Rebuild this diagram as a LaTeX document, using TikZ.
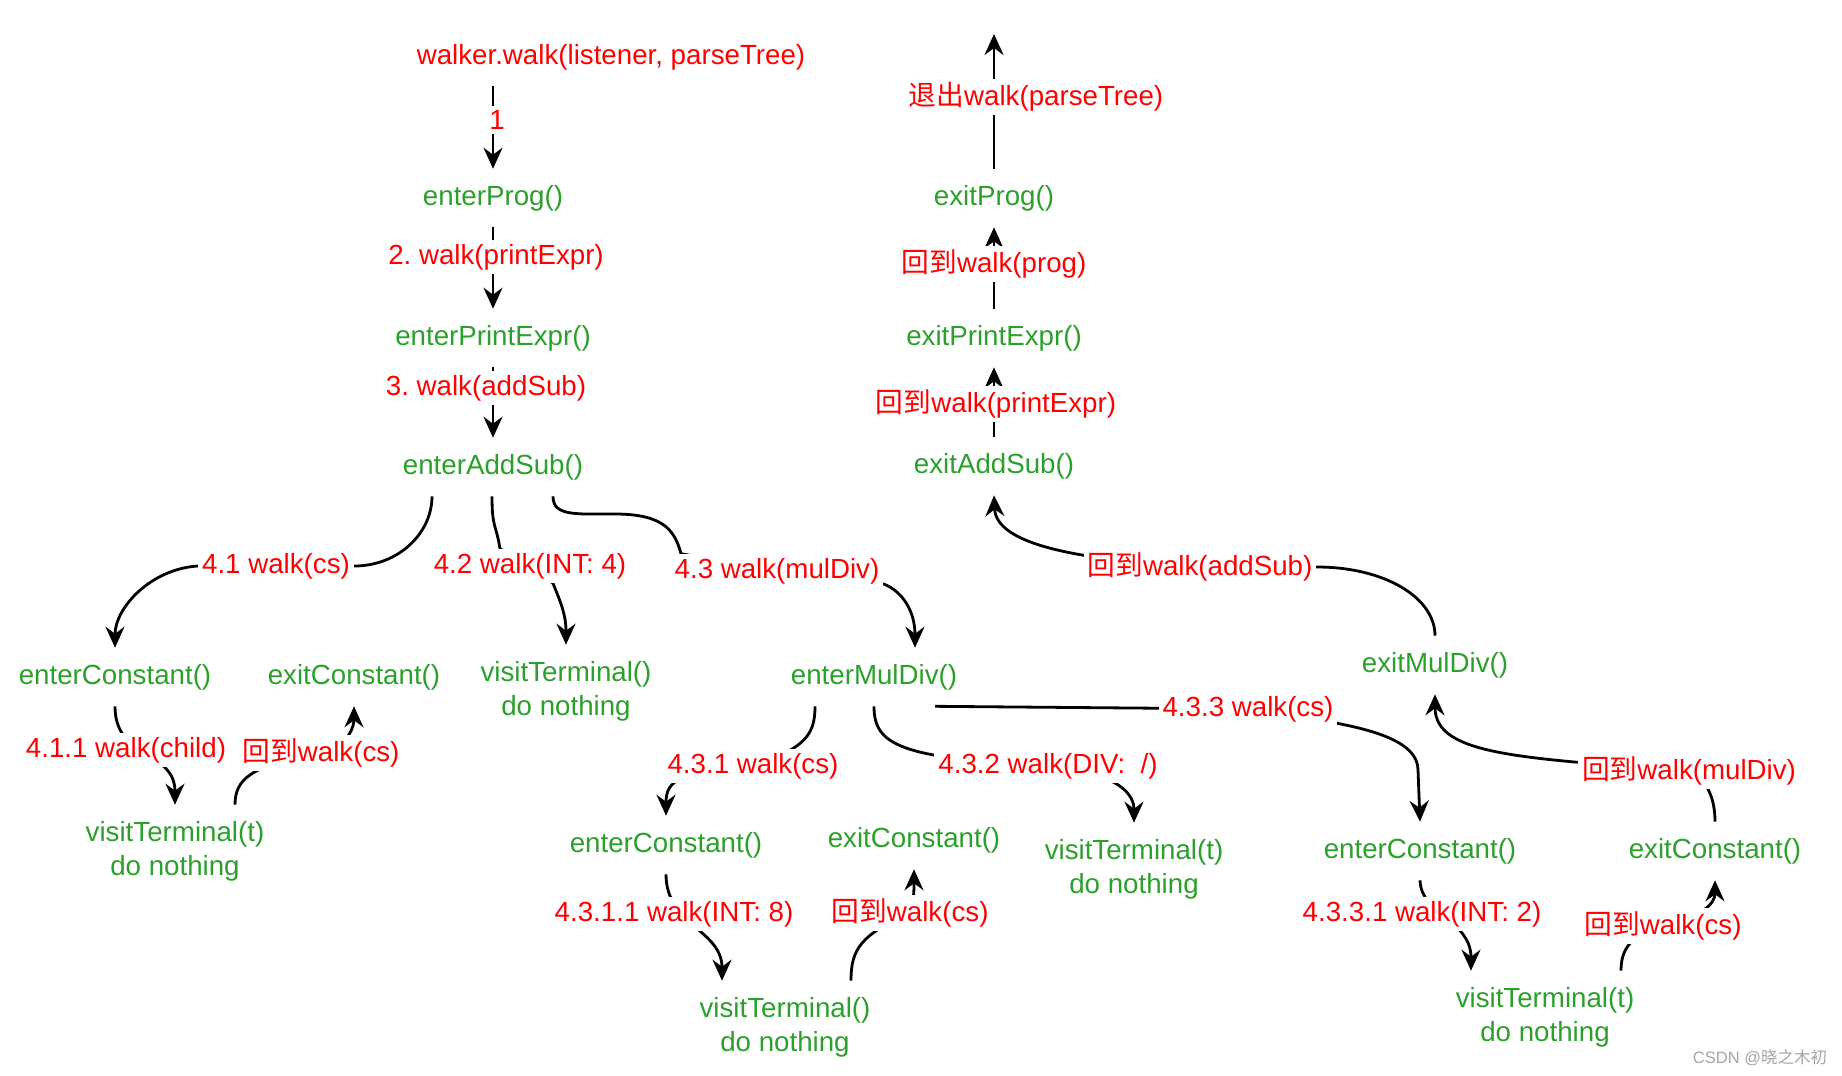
\documentclass[tikz,border=0pt]{standalone}
\usepackage{fontspec}
\setmainfont{Liberation Sans}
\newfontfamily\cjk{Noto Sans CJK SC}
\usetikzlibrary{arrows.meta,calc,backgrounds}
\definecolor{fred}{RGB}{255,0,0}
\definecolor{fgreen}{RGB}{43,160,43}
\definecolor{wmark}{RGB}{165,165,165}
\begin{document}
\frenchspacing
\begin{tikzpicture}[x=0.5pt,y=-0.5pt,
  every node/.style={font=\fontsize{13.85pt}{17pt}\selectfont},
  fn/.style={text=fgreen, inner xsep=2pt, inner ysep=8pt, align=center},
  rtext/.style={text=fred, inner xsep=2pt, inner ysep=8pt},
  lbl/.style={text=fred, fill=white, inner sep=2pt},
  conn/.style={line width=1.4pt, -{Stealth[length=10.5pt,width=9.5pt,inset=3.5pt]}}]
\useasboundingbox (0,0) rectangle (1842,1076);

% functions (green)
\node[fn] (ePg) at (493,198) {enterProg()};
\node[fn] (ePE) at (493,338) {enterPrintExpr()};
\node[fn] (eAS) at (493,467) {enterAddSub()};
\node[fn] (xPg) at (994,198) {exitProg()};
\node[fn] (xPE) at (994,338) {exitPrintExpr()};
\node[fn] (xAS) at (994,466) {exitAddSub()};
\node[fn] (ecL) at (115,677) {enterConstant()};
\node[fn] (xcL) at (354,677) {exitConstant()};
\node[fn] (vt1) at (566,691) {visitTerminal()\\do nothing};
\node[fn] (eMD) at (874,677) {enterMulDiv()};
\node[fn] (vtL) at (175,851) {visitTerminal(t)\\do nothing};
\node[fn] (ecM) at (666,845) {enterConstant()};
\node[fn] (xcM) at (914,840) {exitConstant()};
\node[fn] (vtM) at (785,1027) {visitTerminal()\\do nothing};
\node[fn] (vtD) at (1134,869) {visitTerminal(t)\\do nothing};
\node[fn] (xMD) at (1435,665) {exitMulDiv()};
\node[fn] (ecR) at (1420,851) {enterConstant()};
\node[fn] (xcR) at (1715,851) {exitConstant()};
\node[fn] (vtR) at (1545,1017) {visitTerminal(t)\\do nothing};

% red texts / labels
\node[rtext] (walker) at (611,57) {walker.walk(listener, parseTree)};
\coordinate (topEnd) at (994,34);
\node[lbl] (l1) at (497,120) {1};
\node[lbl] (l2) at (496,257) {2. walk(printExpr)};
\node[lbl] (l3) at (486,388) {3. walk(addSub)};
\node[lbl] (lq) at (1036,97) {{\cjk 退出}walk(parseTree)};
\node[lbl] (lbP) at (994,264) {{\cjk 回到}walk(prog)};
\node[lbl] (lbE) at (996,404) {{\cjk 回到}walk(printExpr)};
\node[lbl] (l41) at (276,566) {4.1 walk(cs)};
\node[lbl] (l42) at (530,566) {4.2 walk(INT: 4)};
\node[lbl] (l43) at (777,571) {4.3 walk(mulDiv)};
\node[lbl] (lbA) at (1200,567) {{\cjk 回到}walk(addSub)};
\node[lbl] (l411) at (126,750) {4.1.1 walk(child)};
\node[lbl] (lbL) at (321,753) {{\cjk 回到}walk(cs)};
\node[lbl] (l431) at (753,766) {4.3.1 walk(cs)};
\node[lbl] (l432) at (1048,766) {4.3.2 walk(DIV:\ \ /)};
\node[lbl] (l433) at (1248,709) {4.3.3 walk(cs)};
\node[lbl] (lbM) at (1689,771) {{\cjk 回到}walk(mulDiv)};
\node[lbl] (l4311) at (674,914) {4.3.1.1 walk(INT: 8)};
\node[lbl] (lbM2) at (910,913) {{\cjk 回到}walk(cs)};
\node[lbl] (l4331) at (1422,914) {4.3.3.1 walk(INT: 2)};
\node[lbl] (lbR) at (1663,926) {{\cjk 回到}walk(cs)};
\node[text=wmark, font=\fontsize{8.25pt}{10pt}\selectfont] (wm) at (1760,1058) {CSDN @{\cjk 晓之木初}};

\begin{pgfonlayer}{background}
% main vertical chain
\draw[conn] (walker.south -| ePg.north) -- (ePg.north);
\draw[conn] (ePg.south) -- (ePE.north);
\draw[conn] (ePE.south) -- (eAS.north);
\draw[conn] (xPg.north) -- (topEnd);
\draw[conn] (xPE.north) -- (xPg.south);
\draw[conn] (xAS.north) -- (xPE.south);
% back to addSub
\draw[conn] (xMD.north) .. controls +(0,-38) and +(68,0) .. (lbA.east) -- (lbA.center)
  .. controls (1080,560) and +(2,50) .. (xAS.south);
% 4.1
\draw[conn] ($(eAS.south)+(-61,0)$) .. controls +(0,37) and +(44,0) .. (l41.east) -- (l41.center) -- (l41.west)
  .. controls +(-47,3) and +(0,-40) .. (ecL.north);
% 4.2
\draw[conn] ($(eAS.south)+(-1,0)$) .. controls +(0,32) and +(-4,-25) .. ($(l42.north)+(-30,0)$) -- (l42.center)
  -- ($(l42.south)+(23,0)$) .. controls +(8,20) and +(0,-30) .. (vt1.north);
% 4.3
\draw[conn] ($(eAS.south)+(60,0)$) .. controls +(0,20) and +(-40,0) .. (615,514)
  .. controls +(50,0) and +(-6,-22) .. ($(l43.north)+(-96,0)$) -- (l43.center)
  -- ($(l43.east)+(0,13)$) .. controls +(20,8) and +(0,-35) .. ($(eMD.north)+(41,0)$);
% 4.1.1
\draw[conn] (ecL.south) .. controls +(0,54) and +(0,-55) .. (vtL.north);
% back to cs (left)
\draw[conn] ($(vtL.north)+(60,0)$) .. controls +(0,-25) and +(-71,12) .. (lbL.center)
  .. controls +(29,-8) and +(0,19) .. (xcL.south);
% 4.3.1
\draw[conn] ($(eMD.south)+(-59,0)$) .. controls +(0,29) and +(52,-18) .. (l431.center)
  .. controls +(-73,6) and +(0,-36) .. (ecM.north);
% 4.3.2
\draw[conn] (eMD.south) .. controls +(0,39) and +(-148,-8) .. (l432.center)
  .. controls +(62,6) and +(0,-33) .. (vtD.north);
% 4.3.3
\draw[conn] ($(eMD.south)+(61,0)$) -- (l433.center) .. controls +(82,13) and +(-1,-40) .. ($(ecR.north)+(-2,-52)$) -- (ecR.north);
% back to mulDiv
\draw[conn] (xcR.north) .. controls +(0,-22) and +(19,9) .. (lbM.center)
  .. controls +(-169,-13) and +(0,61) .. (xMD.south);
% 4.3.1.1
\draw[conn] (ecM.south) .. controls +(0,51) and +(0,-51) .. ($(vtM.north)+(-63,0)$);
% back to cs (middle)
\draw[conn] ($(vtM.north)+(66,0)$) .. controls +(0,-31) and +(-50,22) .. (lbM2.center)
  .. controls +(4,-13) and +(0,21) .. (xcM.south);
% 4.3.3.1
\draw[conn] (ecR.south) .. controls +(1,35) and +(0,-51) .. ($(vtR.north)+(-74,0)$);
% back to cs (right)
\draw[conn] ($(vtR.north)+(76,0)$) .. controls +(0,-21) and +(-33,9) .. (lbR.center)
  .. controls +(37,-10) and +(0,25) .. (xcR.south);
\end{pgfonlayer}
\end{tikzpicture}
\end{document}
